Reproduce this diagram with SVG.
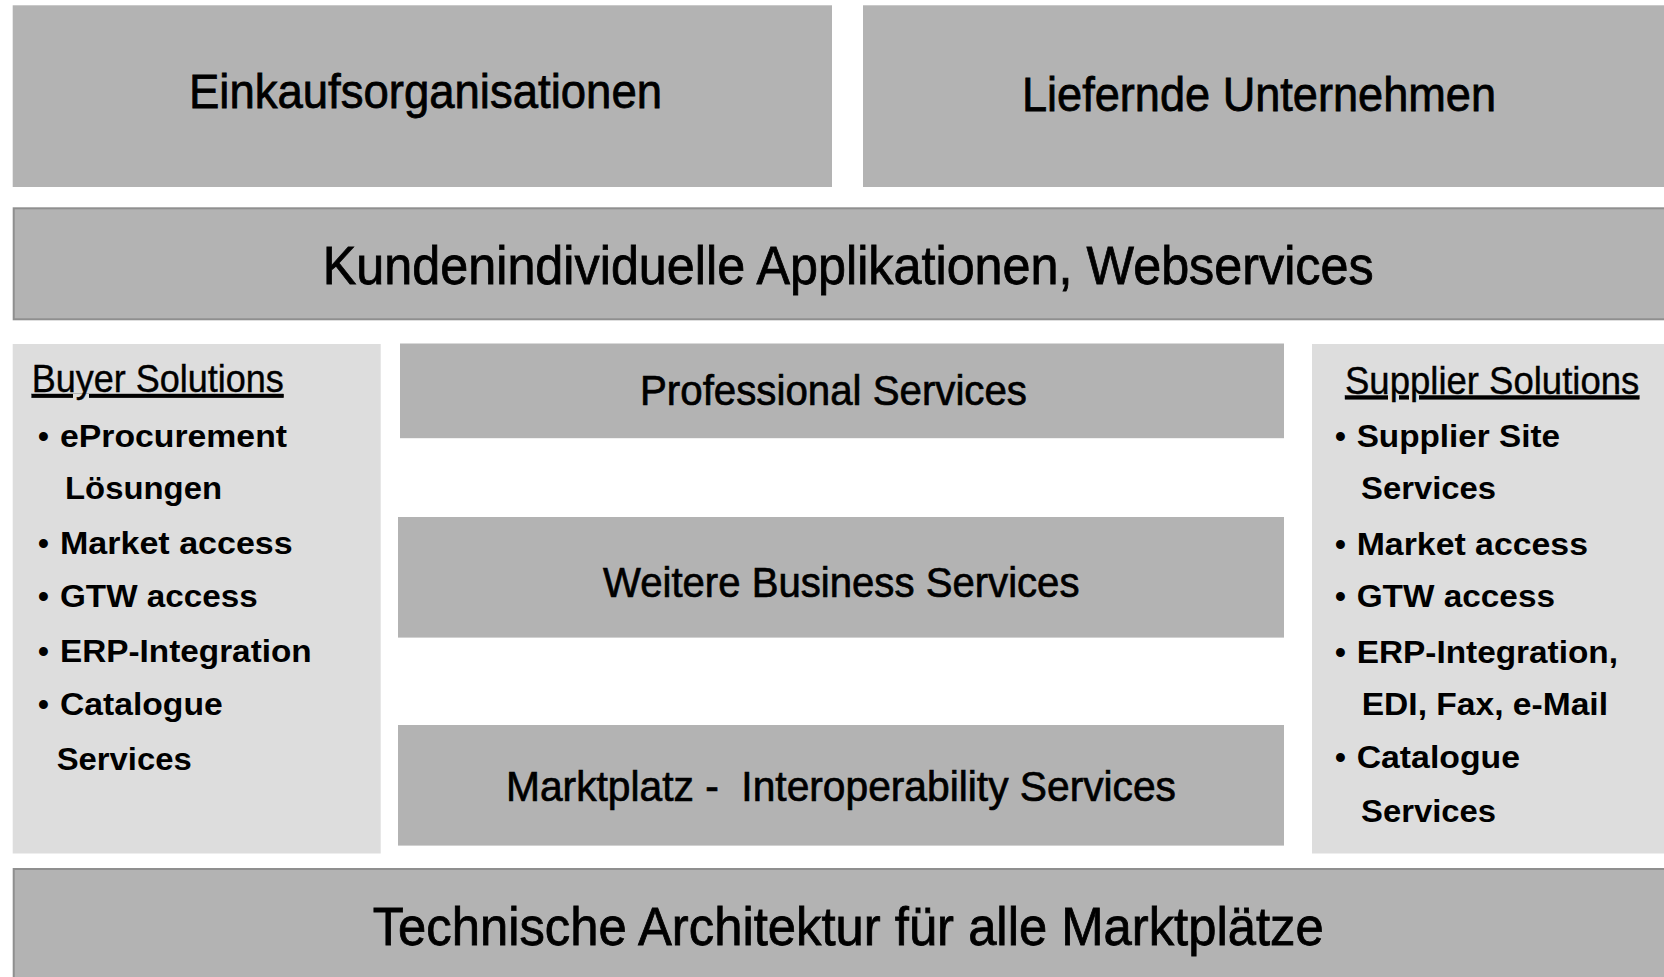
<svg xmlns="http://www.w3.org/2000/svg" width="1664" height="977" viewBox="0 0 1664 977">
<style>
.box{fill:#b3b3b3;}
.bord{fill:#b3b3b3;stroke:#8f8f8f;stroke-width:2;}
.panel{fill:#dddddd;}
text{font-family:"Liberation Sans",Arial,Helvetica,sans-serif;fill:#000;white-space:pre;}
.big{font-size:49px;stroke:#000;stroke-width:0.8;}
.huge{font-size:53px;stroke:#000;stroke-width:0.8;}
.mid{font-size:42px;stroke:#000;stroke-width:0.7;}
.head{font-size:38px;text-decoration:underline;stroke:#000;stroke-width:0.4;}
.li{font-size:31px;font-weight:bold;}
</style>
<rect width="1664" height="977" fill="#ffffff"/>
<g id="einkauf">
<rect class="box" x="12.7" y="5.3" width="819.3" height="181.7"/>
<text class="big" x="189" y="108" textLength="473" lengthAdjust="spacingAndGlyphs">Einkaufsorganisationen</text>
</g>
<g id="liefernde">
<rect class="box" x="863" y="5.3" width="801" height="181.7"/>
<text class="big" x="1022" y="111" textLength="474" lengthAdjust="spacingAndGlyphs">Liefernde Unternehmen</text>
</g>
<g id="kunden">
<rect class="bord" x="13.7" y="208.3" width="1660" height="111"/>
<text class="huge" x="322.7" y="284.3" textLength="1051" lengthAdjust="spacingAndGlyphs">Kundenindividuelle Applikationen, Webservices</text>
</g>
<g id="buyer">
<rect class="panel" x="12.7" y="344" width="368" height="509.5"/>
<text class="head" x="31.7" y="392" textLength="252" lengthAdjust="spacingAndGlyphs">Buyer Solutions</text>
<text class="li" x="38" y="446.6">•</text>
<text class="li" x="60" y="446.6" textLength="227" lengthAdjust="spacingAndGlyphs">eProcurement</text>
<text class="li" x="65" y="499" textLength="157" lengthAdjust="spacingAndGlyphs">Lösungen</text>
<text class="li" x="38" y="553.8">•</text>
<text class="li" x="60" y="553.8" textLength="232.7" lengthAdjust="spacingAndGlyphs">Market access</text>
<text class="li" x="38" y="607.2">•</text>
<text class="li" x="60" y="607.2" textLength="197.7" lengthAdjust="spacingAndGlyphs">GTW access</text>
<text class="li" x="38" y="662">•</text>
<text class="li" x="60" y="662" textLength="251.7" lengthAdjust="spacingAndGlyphs">ERP-Integration</text>
<text class="li" x="38" y="715.4">•</text>
<text class="li" x="60" y="715.4" textLength="162.7" lengthAdjust="spacingAndGlyphs">Catalogue</text>
<text class="li" x="56.7" y="769.5" textLength="135" lengthAdjust="spacingAndGlyphs">Services</text>
</g>
<g id="professional">
<rect class="box" x="400" y="343.5" width="884" height="94.7"/>
<text class="mid" x="640" y="404.5" textLength="387" lengthAdjust="spacingAndGlyphs">Professional Services</text>
</g>
<g id="weitere">
<rect class="box" x="398" y="517" width="886" height="120.6"/>
<text class="mid" x="603" y="596.5" textLength="476.5" lengthAdjust="spacingAndGlyphs">Weitere Business Services</text>
</g>
<g id="marktplatz">
<rect class="box" x="398" y="725" width="886" height="120.6"/>
<text class="mid" x="506" y="800.6" textLength="670" lengthAdjust="spacingAndGlyphs">Marktplatz -  Interoperability Services</text>
</g>
<g id="supplier">
<rect class="panel" x="1312" y="344" width="352" height="509.5"/>
<text class="head" x="1345" y="393.5" textLength="294.3" lengthAdjust="spacingAndGlyphs">Supplier Solutions</text>
<text class="li" x="1335" y="446.6">•</text>
<text class="li" x="1356.7" y="446.6" textLength="203.3" lengthAdjust="spacingAndGlyphs">Supplier Site</text>
<text class="li" x="1361" y="499" textLength="135" lengthAdjust="spacingAndGlyphs">Services</text>
<text class="li" x="1335" y="554.8">•</text>
<text class="li" x="1356.7" y="554.8" textLength="231.3" lengthAdjust="spacingAndGlyphs">Market access</text>
<text class="li" x="1335" y="607.2">•</text>
<text class="li" x="1356.7" y="607.2" textLength="198.3" lengthAdjust="spacingAndGlyphs">GTW access</text>
<text class="li" x="1335" y="663">•</text>
<text class="li" x="1356.7" y="663" textLength="261.3" lengthAdjust="spacingAndGlyphs">ERP-Integration,</text>
<text class="li" x="1361.7" y="715.4" textLength="246.3" lengthAdjust="spacingAndGlyphs">EDI, Fax, e-Mail</text>
<text class="li" x="1335" y="768">•</text>
<text class="li" x="1356.7" y="768" textLength="163.3" lengthAdjust="spacingAndGlyphs">Catalogue</text>
<text class="li" x="1361" y="821.7" textLength="135" lengthAdjust="spacingAndGlyphs">Services</text>
</g>
<g id="technische">
<rect class="bord" x="13.7" y="869" width="1660" height="120"/>
<text class="huge" x="372.7" y="945" textLength="951" lengthAdjust="spacingAndGlyphs">Technische Architektur für alle Marktplätze</text>
</g>
<g id="connectors"></g>
</svg>
